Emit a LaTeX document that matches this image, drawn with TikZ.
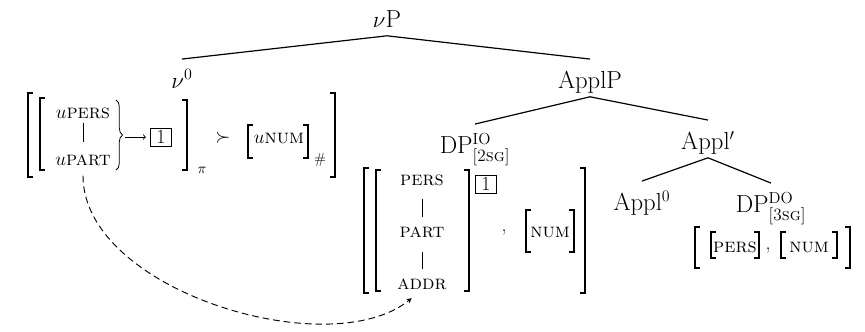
\documentclass[tikz,border=0pt]{standalone}
\usepackage{amsmath}
\usepackage{xcolor}
\usepackage{amssymb}
\usepackage{tikz}
\usetikzlibrary{decorations.pathreplacing}

\tikzset{
  lbl/.style={inner sep=0pt, anchor=base, text height=21.5pt, text depth=6.4pt, font=\fontsize{18.5}{22}\selectfont},
  ftr/.style={inner sep=0pt, font=\fontsize{15}{18}\selectfont},
  sml/.style={inner sep=0pt, font=\fontsize{11}{13}\selectfont},
  idx/.style={draw, line width=0.6pt, inner sep=0pt, minimum width=16pt, minimum height=13.5pt, font=\fontsize{15}{18}\selectfont},
  brk/.style={line width=1.3pt},
  branch/.style={line width=0.9pt},
  geo/.style={line width=0.6pt},
  link/.style={line width=0.7pt, dash pattern=on 5pt off 3pt, -stealth},
}

\begin{document}
\begin{tikzpicture}[x=0.75pt,y=0.75pt,yscale=-1,xscale=1]

\useasboundingbox (0,0) rectangle (865,332);

% tree
\node[lbl] (vP) at (387,27) {$\nu$P};
\node[lbl] (v0) at (182,88) {$\nu^0$};
\node[lbl] (ApplP) at (590,88) {ApplP};
\node[lbl] (DPio) at (475,153) {DP$^{\mathrm{IO}}_{\text{[2\textsc{sg}]}}$};
\node[lbl] (Applbar) at (708,149) {Appl$'$};
\node[lbl] (Appl0) at (642,210) {Appl$^0$};
\node[lbl] (DPdo) at (771,212) {DP$^{\mathrm{DO}}_{\text{[3\textsc{sg}]}}$};

\draw[branch] (vP.south) -- (v0.north);
\draw[branch] (vP.south) -- (ApplP.north);
\draw[branch] (ApplP.south) -- (DPio.north);
\draw[branch] (ApplP.south) -- (Applbar.north);
\draw[branch] (Applbar.south) -- (Appl0.north);
\draw[branch] (Applbar.south) -- (DPdo.north);

% v0 features
\node[ftr] (uPERS) at (83,113) {$u$\textsc{pers}};
\node[ftr] (uPART) at (83,160) {$u$\textsc{part}};
\node[idx] (oneL) at (161,137) {1};
\node[sml] (pi) at (202,170) {$\pi$};
\node[ftr] (succ) at (223,138) {$\succ$};
\node[ftr] (uNUM) at (279,138) {$u$\textsc{num}};
\node[sml] (hash) at (320,160) {\#};

\draw[geo, shorten <=3pt, shorten >=9pt] (uPERS) -- (uPART);

\draw[decorate, decoration={brace, amplitude=5pt}, line width=0.6pt] (116,100) -- (116,170);
\coordinate (tipL) at (125,137);
\draw[geo, ->, shorten >=3pt] (tipL) -- (oneL);

\draw[brk] (33,93) -- (28,93) -- (28,177) -- (33,177);
\draw[brk] (45,98) -- (40,98) -- (40,170) -- (45,170);
\draw[brk] (182,100) -- (187,100) -- (187,170) -- (182,170);
\draw[brk] (253,125) -- (248,125) -- (248,158) -- (253,158);
\draw[brk] (303,125) -- (308,125) -- (308,158) -- (303,158);
\draw[brk] (330,93) -- (335,93) -- (335,177) -- (330,177);

% DP io features
\node[ftr] (PERSio) at (422,180) {\textsc{pers}};
\node[ftr] (PARTio) at (422,232) {\textsc{part}};
\node[ftr] (ADDRio) at (422,284) {\textsc{addr}};
\node[idx] (oneR) at (486,184) {1};
\node[ftr] (commaio) at (504,233) {,};
\node[ftr] (NUMio) at (550,232) {\textsc{num}};

\draw[geo, shorten <=10pt, shorten >=7pt] (PERSio) -- (PARTio);
\draw[geo, shorten <=11pt, shorten >=7pt] (PARTio) -- (ADDRio);

\draw[brk] (369,168) -- (364,168) -- (364,293) -- (369,293);
\draw[brk] (381,170) -- (376,170) -- (376,291) -- (381,291);
\draw[brk] (464,170) -- (469,170) -- (469,291) -- (464,291);
\draw[brk] (531,210) -- (526,210) -- (526,252) -- (531,252);
\draw[brk] (569,210) -- (574,210) -- (574,252) -- (569,252);
\draw[brk] (580,168) -- (585,168) -- (585,293) -- (580,293);

% DP do features
\node[ftr] (PERSdo) at (735,247) {\textsc{pers}};
\node[ftr] (commado) at (768,251) {,};
\node[ftr] (NUMdo) at (809,247) {\textsc{num}};

\draw[brk] (700,227) -- (695,227) -- (695,268) -- (700,268);
\draw[brk] (716,232) -- (711,232) -- (711,258) -- (716,258);
\draw[brk] (754,232) -- (759,232) -- (759,258) -- (754,258);
\draw[brk] (786,232) -- (781,232) -- (781,258) -- (786,258);
\draw[brk] (832,232) -- (837,232) -- (837,258) -- (832,258);
\draw[brk] (845,227) -- (850,227) -- (850,268) -- (845,268);

% agree
\draw[link, shorten <=7.5pt, shorten >=10pt] (uPART.south) .. controls +(0,125) and +(-92,75) .. (ADDRio.south);

\end{tikzpicture}
\end{document}
